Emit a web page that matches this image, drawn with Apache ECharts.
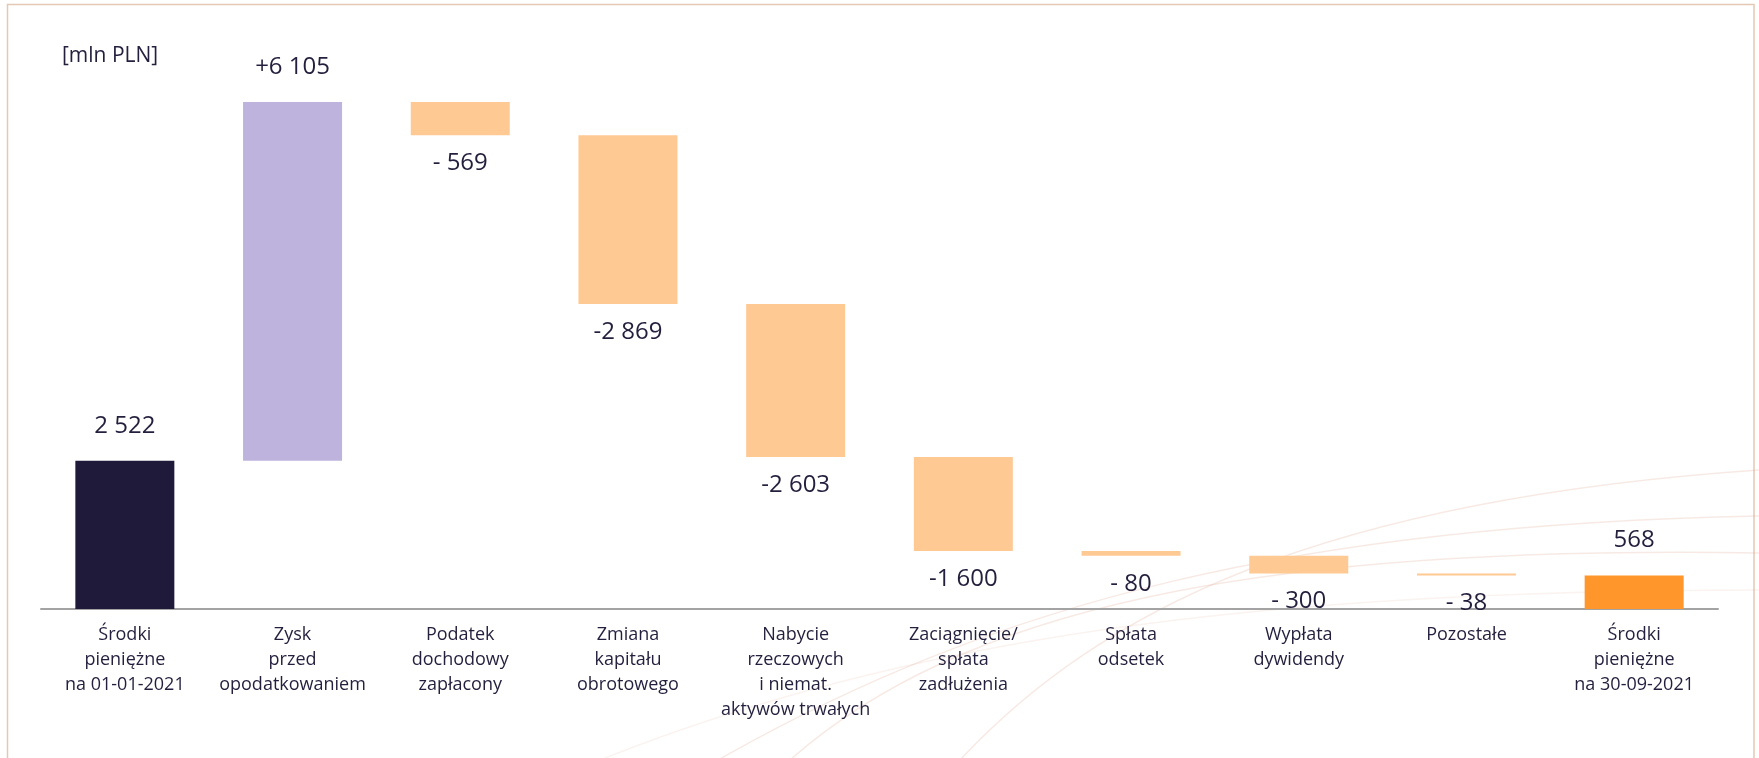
<!DOCTYPE html>
<html>
<head>
<meta charset="utf-8">
<script src="https://cdn.jsdelivr.net/npm/echarts@6/dist/echarts.min.js"></script>
<style>
  html, body { margin: 0; padding: 0; background: #ffffff; }
  #chart { width: 1759px; height: 758px; }
</style>
</head>
<body>
<div id="chart"></div>
<script>
// ---- data ----
const categories = [
  'Środki\npieniężne\nna 01-01-2021',
  'Zysk\nprzed\nopodatkowaniem',
  'Podatek\ndochodowy\nzapłacony',
  'Zmiana\nkapitału\nobrotowego',
  'Nabycie\nrzeczowych\ni niemat.\naktywów trwałych',
  'Zaciągnięcie/\nspłata\nzadłużenia',
  'Spłata\nodsetek',
  'Wypłata\ndywidendy',
  'Pozostałe',
  'Środki\npieniężne\nna 30-09-2021'
];
const values = [2522, 6105, -569, -2869, -2603, -1600, -80, -300, -38, 568];
const kinds = ['start', 'increase', 'decrease', 'decrease', 'decrease', 'decrease', 'decrease', 'decrease', 'decrease', 'end'];
const valueLabels = ['2 522', '+6 105', '- 569', '-2 869', '-2 603', '-1 600', '- 80', '- 300', '- 38', '568'];
const unitLabel = '[mln PLN]';

// ---- styling ----
const colors = { start: '#201a3a', increase: '#bdb3dd', decrease: '#ffc994', end: '#ff962b' };
const textColor = '#231f3d';
const FONT = '"Open Sans", "Noto Sans", sans-serif';

// ---- waterfall build ----
const baseData = [];
const barData = [];
let running = 0;
values.forEach((v, i) => {
  const k = kinds[i];
  let base, h;
  if (k === 'start' || k === 'end') {
    base = 0; h = v; running = v;
  } else if (v >= 0) {
    base = running; h = v; running += v;
  } else {
    running += v; base = running; h = -v;
  }
  baseData.push(base);
  const onTop = (k !== 'decrease');
  barData.push({
    value: h,
    itemStyle: { color: colors[k] },
    label: {
      show: true,
      position: onTop ? 'top' : 'bottom',
      distance: onTop ? 23 : 16,
      formatter: valueLabels[i]
    }
  });
});

const chart = echarts.init(document.getElementById('chart'), null, { renderer: 'canvas' });

const curveStyle = { stroke: 'rgba(222,170,150,0.25)', lineWidth: 1.5, fill: null };

chart.setOption({
  backgroundColor: '#ffffff',
  animation: false,
  grid: { left: 41, right: 41, top: 80, bottom: 149, containLabel: false },
  xAxis: {
    type: 'category',
    data: categories,
    axisLine: { show: true, lineStyle: { color: '#a3a3a3', width: 2 } },
    axisTick: { show: false },
    axisLabel: {
      interval: 0,
      margin: 13,
      color: textColor,
      fontFamily: FONT,
      fontSize: 18,
      lineHeight: 25,
      align: 'center'
    }
  },
  yAxis: {
    type: 'value',
    min: 0,
    max: 9000,
    interval: 1000,
    show: false,
    splitLine: { show: false }
  },
  series: [
    {
      name: 'base',
      type: 'bar',
      stack: 'w',
      data: baseData,
      itemStyle: { color: 'transparent' },
      barWidth: 99,
      silent: true,
      z: 3
    },
    {
      name: 'value',
      type: 'bar',
      stack: 'w',
      data: barData,
      barWidth: 99,
      label: {
        color: textColor,
        fontFamily: FONT,
        fontSize: 24
      },
      z: 3
    }
  ],
  graphic: [
    {
      type: 'rect',
      z: 0,
      shape: { x: 7.5, y: 4.5, width: 1746.5, height: 800 },
      style: { fill: null, stroke: '#e3c8b4', lineWidth: 1.5 }
    },
    {
      type: 'bezierCurve', z: 0, silent: true,
      shape: { x1: 718, y1: 760, cpx1: 1000, cpy1: 600, cpx2: 1300, cpy2: 525, x2: 1759, y2: 516 },
      style: curveStyle
    },
    {
      type: 'bezierCurve', z: 0, silent: true,
      shape: { x1: 790, y1: 760, cpx1: 960, cpy1: 610, cpx2: 1250, cpy2: 545, x2: 1759, y2: 553 },
      style: curveStyle
    },
    {
      type: 'bezierCurve', z: 0, silent: true,
      shape: { x1: 960, y1: 760, cpx1: 1100, cpy1: 610, cpx2: 1320, cpy2: 500, x2: 1759, y2: 470 },
      style: curveStyle
    },
    {
      type: 'bezierCurve', z: 0, silent: true,
      shape: { x1: 600, y1: 760, cpx1: 900, cpy1: 640, cpx2: 1250, cpy2: 590, x2: 1759, y2: 590 },
      style: { stroke: 'rgba(222,170,150,0.14)', lineWidth: 1.4, fill: null }
    },
    {
      type: 'text',
      z: 5,
      left: 62,
      top: 46,
      style: {
        text: unitLabel,
        fill: textColor,
        font: '21px ' + FONT
      }
    }
  ]
});
</script>
</body>
</html>
